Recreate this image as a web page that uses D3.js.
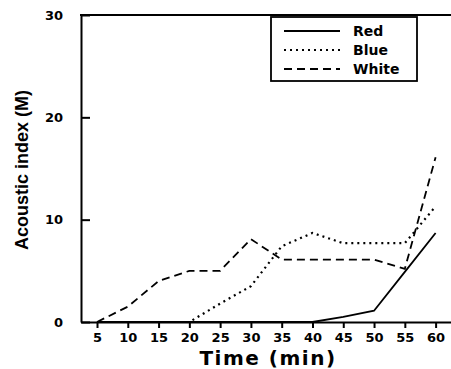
<!DOCTYPE html>
<html><head><meta charset="utf-8">
<script src="https://cdn.jsdelivr.net/npm/d3@7"></script>
<style>body{margin:0;background:#fff;} svg{display:block;font-family:"Liberation Sans",Arial,sans-serif;}</style>
</head><body>
<svg id="c" width="451" height="369"></svg>
<script>
const times = [5,10,15,20,25,30,35,40,45,50,55,60];
const red   = [0,0,0,0,0,0,0,0,0.5,1.1,4.9,8.7];
const blue  = [0,0,0,0,1.8,3.5,7.4,8.7,7.7,7.7,7.7,11.3];
const white = [0,1.5,4.0,5.0,5.0,8.1,6.1,6.1,6.1,6.1,5.2,16.1];
const seriesNames = ["Red","Blue","White"];
const yTicks = [0,10,20,30];
const wide = "'DejaVu Sans',Verdana,sans-serif";

const svg = d3.select("#c");
const x = d3.scaleLinear().domain([2.4,62.5]).range([81,451]);
const y = d3.scaleLinear().domain([0,30]).range([322,15]);

// axes
const gx = svg.append("g").attr("transform","translate(0,322)")
  .call(d3.axisBottom(x).tickValues(times).tickSize(6).tickPadding(5).tickSizeOuter(0));
gx.select(".domain").attr("stroke-width",2);
gx.selectAll(".tick line").attr("stroke-width",2);
gx.selectAll(".tick text").attr("font-size",13).attr("font-family",wide).attr("font-weight","bold").attr("fill","#000");

const gy = svg.append("g").attr("transform","translate(81,0)")
  .call(d3.axisLeft(y).tickValues(yTicks).tickSize(-9).tickPadding(18).tickSizeOuter(0));
gy.select(".domain").attr("stroke-width",2);
gy.selectAll(".tick line").attr("stroke-width",2);
gy.selectAll(".tick text").attr("font-size",13).attr("font-family",wide).attr("font-weight","bold").attr("fill","#000");

// top border
svg.append("line").attr("x1",80).attr("x2",451).attr("y1",y(30)).attr("y2",y(30))
  .attr("stroke","#000").attr("stroke-width",2);

const styles = {Red:null, Blue:"2,4", White:"8,5"};
const data = {Red:red, Blue:blue, White:white};
const line = d3.line().x((d,i)=>x(times[i])).y(d=>y(d));
seriesNames.forEach(n=>{
  svg.append("path").datum(data[n]).attr("d",line).attr("fill","none")
    .attr("stroke","#000").attr("stroke-width",n==="Blue"?2.2:1.8)
    .attr("stroke-dasharray",styles[n]);
});

// legend
svg.append("rect").attr("x",271).attr("y",17).attr("width",146).attr("height",64)
  .attr("fill","#fff").attr("stroke","#000").attr("stroke-width",1.8);
seriesNames.forEach((n,i)=>{
  const yy = 31+i*19;
  svg.append("line").attr("x1",284).attr("x2",340).attr("y1",yy).attr("y2",yy)
    .attr("stroke","#000").attr("stroke-width",n==="Blue"?2.2:1.8).attr("stroke-dasharray",styles[n]);
  svg.append("text").attr("x",353).attr("y",yy+5).attr("font-size",14).attr("font-family",wide)
    .attr("font-weight","bold").text(n);
});

// titles
svg.append("text").attr("x",268).attr("y",365).attr("text-anchor","middle").attr("font-family",wide)
  .attr("font-size",20).attr("font-weight","bold").attr("letter-spacing",1.5).text("Time  (min)");
svg.append("text").attr("transform","translate(28,170) rotate(-90)").attr("text-anchor","middle")
  .attr("font-size",18).attr("font-weight","bold").text("Acoustic index (M)");
</script>
</body></html>
